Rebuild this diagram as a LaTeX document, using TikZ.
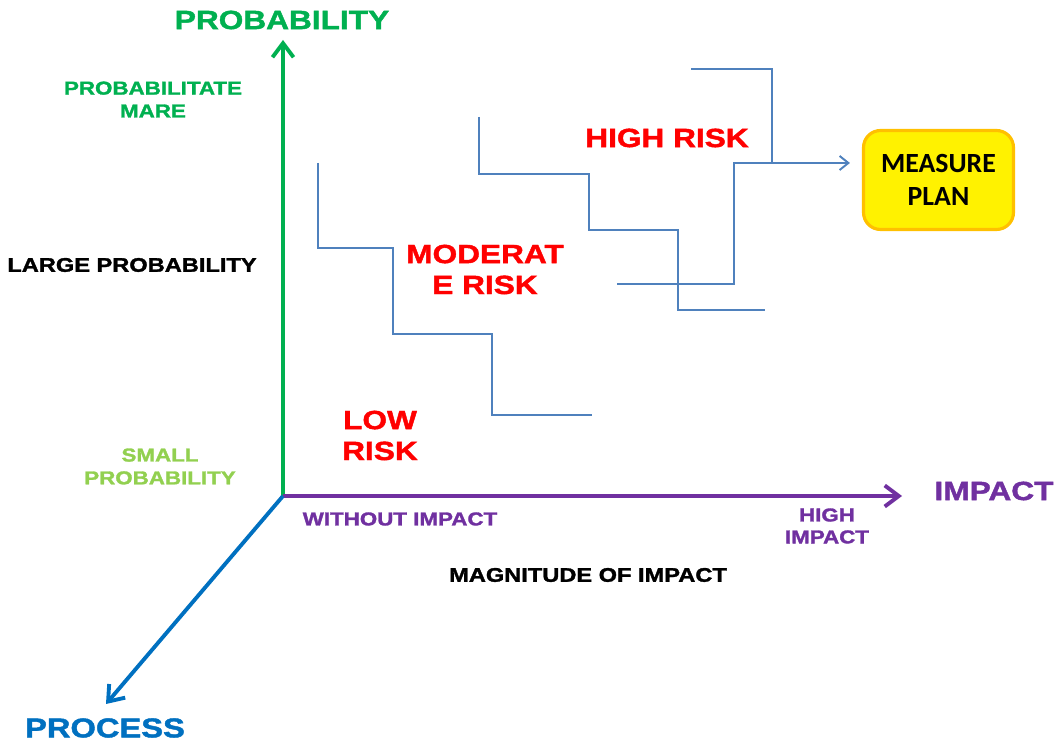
\documentclass[tikz,border=0pt]{standalone}
\usepackage{fontspec}
\setmainfont{Liberation Sans}[FakeStretch=1.2,BoldFeatures={FakeBold=1.6}]
\newfontfamily\planfont{Carlito}
\usetikzlibrary{arrows.meta}
\usetikzlibrary{positioning}

\definecolor{probgreen}{RGB}{0,176,80}
\definecolor{smallgreen}{RGB}{146,208,80}
\definecolor{impurple}{RGB}{112,48,160}
\definecolor{procblue}{RGB}{0,112,192}
\definecolor{riskblue}{RGB}{79,129,189}
\definecolor{planorange}{RGB}{255,192,0}

\begin{document}
\begin{tikzpicture}[x=0.02cm,y=-0.02cm,
				axis/.style={line width=2.2pt,-{Straight Barb[length=8pt,width=12pt]}},
				riskline/.style={draw=riskblue,line width=1.1pt},
				bigtxt/.style={inner sep=0pt,align=center,font=\fontsize{15}{17.6}\selectfont\bfseries},
				midtxt/.style={inner sep=0pt,align=center,font=\fontsize{10.6}{13}\selectfont\bfseries},
				plannode/.style={rectangle,rounded corners=0.34cm,draw=planorange,line width=1.8pt,fill=yellow,
					minimum width=3.0cm,minimum height=1.98cm,align=center,
					font=\planfont\fontsize{15.8}{18.7}\selectfont\bfseries}
				]
				\useasboundingbox (0,0) rectangle (1059,742);
				% axes
				\coordinate (O) at (283,496);
				\coordinate (ptop) at (283,40);
				\coordinate (iend) at (902,496);
				\coordinate (pend) at (106,704);
				\draw [axis,probgreen] (O) -- (ptop);
				\draw [axis,impurple] (O) -- (iend);
				\draw [axis,procblue] (O) -- (pend);
				% axis texts
				\node (problabel) [bigtxt,probgreen] at (282,20) {PROBABILITY};
				\node (mare) [midtxt,probgreen] at (153,99.5) {PROBABILITATE\\MARE};
				\node (large) [midtxt,font=\fontsize{11.2}{13}\selectfont\bfseries] at (132,265) {LARGE PROBABILITY};
				\node (small) [midtxt,smallgreen] at (160,466.5) {SMALL\\PROBABILITY};
				\node (impact) [bigtxt,impurple] at (994,491) {IMPACT};
				\node (without) [midtxt,impurple] at (400,519) {WITHOUT IMPACT};
				\node (highimp) [midtxt,impurple,font=\fontsize{10.6}{12.5}\selectfont\bfseries] at (827,526) {HIGH\\IMPACT};
				\node (magnitude) [midtxt,font=\fontsize{11.2}{13}\selectfont\bfseries] at (588,575) {MAGNITUDE OF IMPACT};
				\node (process) [bigtxt,procblue,font=\fontsize{15.5}{18}\selectfont\bfseries] at (105,728) {PROCESS};
				% risk texts
				\node (low) [bigtxt,red] at (380,435.5) {LOW\\RISK};
				\node (moderate) [bigtxt,red] at (485,269.5) {MODERAT\\E RISK};
				\node (high) [bigtxt,red] at (667,138) {HIGH RISK};
				\node (plan) [plannode] at (938.5,180) {MEASURE\\PLAN};
				% staircases
				\draw [riskline] (318,163) |- (393,248) |- (492,334) |- (592,415);
				\draw [riskline] (479,117) |- (589,174) |- (678,230) |- (765,310);
				\draw [riskline] (691,69) -| (772,163);
				\coordinate (h1) at (617,284);
				\coordinate (h2) at (734,163);
				\draw [riskline,-{Straight Barb[length=5pt,width=8pt]},shorten >=0.24cm] (h1) -| (h2) -- (h2 -| plan.west);
\end{tikzpicture}
\end{document}
